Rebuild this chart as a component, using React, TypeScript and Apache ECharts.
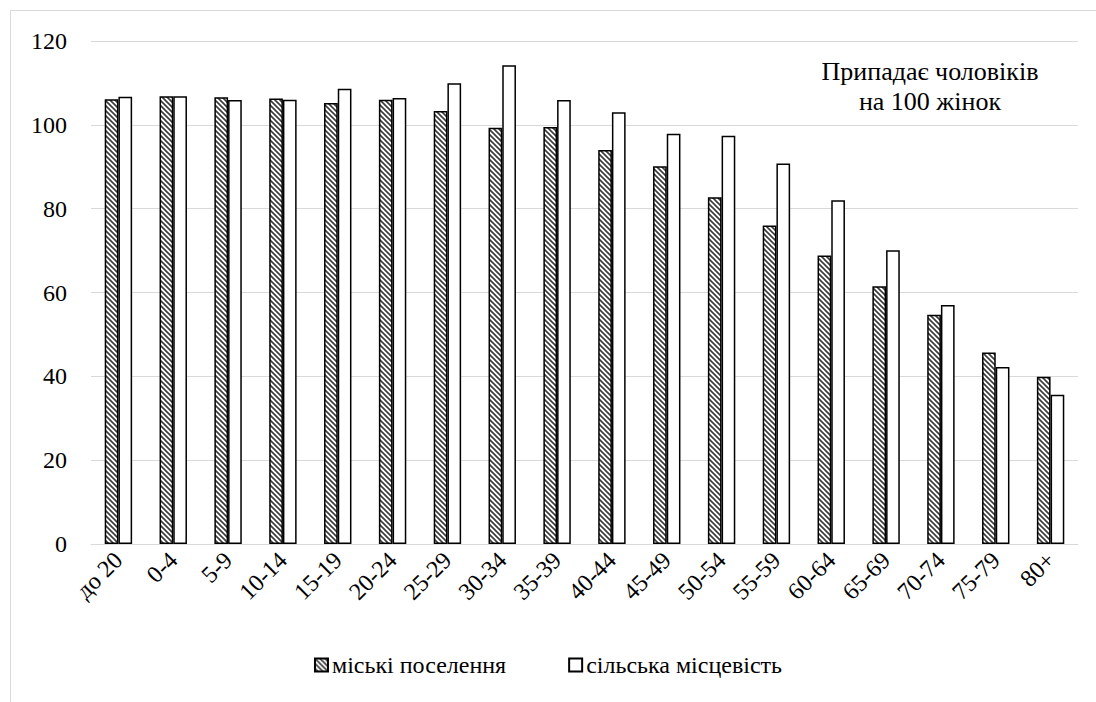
import React, { useEffect, useRef } from "react";
import * as echarts from "echarts";

const categories = ["до 20", "0-4", "5-9", "10-14", "15-19", "20-24", "25-29", "30-34", "35-39", "40-44", "45-49", "50-54", "55-59", "60-64", "65-69", "70-74", "75-79", "80+"];
const urbanValues = [106.1, 106.8, 106.6, 106.3, 105.2, 106.0, 103.3, 99.3, 99.5, 94.0, 90.1, 82.7, 76.0, 68.8, 61.5, 54.7, 45.7, 39.9];
const ruralValues = [106.7, 106.8, 105.9, 106.0, 108.6, 106.4, 109.9, 114.2, 105.9, 103.0, 97.9, 97.4, 90.8, 82.0, 70.1, 57.0, 42.2, 35.6];
const seriesNames = ["міські поселення", "сільська місцевість"];
const yTicks = { min: 0, max: 120, interval: 20 };
const annotation = "Припадає чоловіків\nна 100 жінок";

function makeHatch() {
  const s = 5;
  const c = document.createElement("canvas");
  c.width = s;
  c.height = s;
  const ctx = c.getContext("2d")!;
  ctx.fillStyle = "#ffffff";
  ctx.fillRect(0, 0, s, s);
  ctx.strokeStyle = "#3a3a3a";
  ctx.lineWidth = 1.6;
  ctx.beginPath();
  for (const k of [-s, 0, s]) {
    ctx.moveTo(-1, -1 + k);
    ctx.lineTo(s + 1, s + 1 + k);
  }
  ctx.stroke();
  return c;
}

export default function App() {
  const ref = useRef<HTMLDivElement>(null);
  useEffect(() => {
    document.body.style.margin = "0";
    const chart = echarts.init(ref.current!, null, { renderer: "svg" });
    const font = "'Liberation Serif', 'Times New Roman', Tinos, 'DejaVu Serif', serif";
    const fs = 24;
    const hatch = { image: makeHatch(), repeat: "repeat" } as any;
    chart.setOption({
      animation: false,
      backgroundColor: "#ffffff",
      textStyle: { fontFamily: font, color: "#000" },
      grid: { left: 91, right: 18, top: 41, bottom: 158 },
      legend: {
        bottom: 20,
        left: "center",
        itemWidth: 13,
        itemHeight: 13,
        itemGap: 62,
        textStyle: { fontFamily: font, fontSize: fs, color: "#000", padding: [0, 0, 0, -1] },
        data: seriesNames.map((n) => ({ name: n, icon: "rect" })),
      },
      graphic: [
        {
          type: "rect",
          shape: { x: 10.5, y: 10.5, width: 1100, height: 700 },
          style: { fill: "none", stroke: "#d9d9d9", lineWidth: 1 },
          silent: true,
        },
        {
          type: "text",
          x: 930,
          y: 56,
          style: {
            text: annotation,
            fill: "#000",
            fontFamily: font,
            fontSize: 26,
            textAlign: "center",
            lineHeight: 30,
          },
        },
      ],
      xAxis: {
        type: "category",
        data: categories,
        axisLine: { lineStyle: { color: "#d9d9d9", width: 1 } },
        axisTick: { show: false },
        axisLabel: { rotate: 45, fontSize: fs, color: "#000", fontFamily: font, margin: 12, interval: 0 },
      },
      yAxis: {
        type: "value",
        min: yTicks.min,
        max: yTicks.max,
        interval: yTicks.interval,
        axisLine: { show: false },
        axisTick: { show: false },
        splitLine: { lineStyle: { color: "#d9d9d9", width: 1 } },
        axisLabel: { fontSize: fs, color: "#000", fontFamily: font, margin: 24 },
      },
      series: [
        {
          name: seriesNames[0],
          type: "bar",
          data: urbanValues,
          barWidth: "25%",
          barGap: "0%",
          itemStyle: { color: hatch, borderColor: "#000", borderWidth: 1.5 },
        },
        {
          name: seriesNames[1],
          type: "bar",
          data: ruralValues,
          barWidth: "25%",
          itemStyle: { color: "#ffffff", borderColor: "#000", borderWidth: 1.5 },
        },
      ],
    });
    return () => chart.dispose();
  }, []);
  return <div ref={ref} style={{ width: 1096, height: 702 }} />;
}
